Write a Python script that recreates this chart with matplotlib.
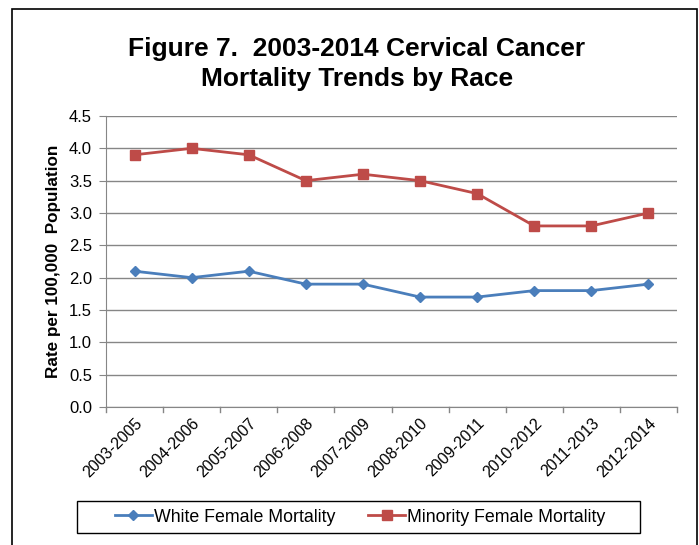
import matplotlib.pyplot as plt
from matplotlib.patches import Rectangle

plt.rcParams['font.family'] = ['Liberation Sans', 'DejaVu Sans']

# Data
periods = ['2003-2005', '2004-2006', '2005-2007', '2006-2008', '2007-2009',
           '2008-2010', '2009-2011', '2010-2012', '2011-2013', '2012-2014']
white = [2.1, 2.0, 2.1, 1.9, 1.9, 1.7, 1.7, 1.8, 1.8, 1.9]
minority = [3.9, 4.0, 3.9, 3.5, 3.6, 3.5, 3.3, 2.8, 2.8, 3.0]
yticks = [0.0, 0.5, 1.0, 1.5, 2.0, 2.5, 3.0, 3.5, 4.0, 4.5]

fig = plt.figure(figsize=(6.99, 5.45), dpi=100)
W, H = 699, 545
ax = fig.add_axes([106 / W, 1 - 407 / H, (677 - 106) / W, (407 - 116) / H])

x = range(len(periods))
ax.plot(x, white, color='#4a7ebb', marker='D', markersize=5, linewidth=2,
        label='White Female Mortality')
ax.plot(x, minority, color='#be4b48', marker='s', markersize=6.5, linewidth=2,
        label='Minority Female Mortality')

ax.set_xlim(-0.5, len(periods) - 0.5)
ax.set_ylim(0, 4.5)
ax.set_yticks(yticks)
ax.set_yticklabels([f'{v:.1f}' for v in yticks], fontsize=12)
ax.set_xticks(x)
ax.set_xticklabels(periods, rotation=45, ha='right', rotation_mode='anchor', fontsize=11.5)
ax.tick_params(axis='x', length=0, pad=6)
ax.tick_params(axis='y', length=5, color='#868686', direction='out', pad=5)
# category boundary ticks
for b in range(len(periods) + 1):
    ax.plot([b - 0.5, b - 0.5], [0, -0.08], color='#868686', lw=1, clip_on=False)

ax.grid(axis='y', color='#868686', linewidth=1)
ax.set_axisbelow(True)
for s in ['top', 'right']:
    ax.spines[s].set_visible(False)
ax.spines['left'].set_color('#868686')
ax.spines['bottom'].set_color('#868686')

ax.set_ylabel('Rate per 100,000  Population', fontsize=12.3, fontweight='bold', labelpad=6)

fig.text(357 / W, 1 - 64 / H, 'Figure 7.  2003-2014 Cervical Cancer\nMortality Trends by Race',
         ha='center', va='center', fontsize=19, fontweight='bold', linespacing=1.35)

leg = fig.legend(loc='center', bbox_to_anchor=(360 / W, 1 - 517 / H), ncol=2,
                 fontsize=12.8, frameon=False, handlelength=2.1, handletextpad=0.1,
                 columnspacing=1.85)

# legend box
fig.patches.append(Rectangle((77 / W, 1 - 533 / H), (640 - 77) / W, (533 - 501) / H,
                             transform=fig.transFigure, fill=False,
                             edgecolor='black', linewidth=1))

# outer chart border
fig.patches.append(Rectangle((12 / W, -0.05), (697 - 12) / W, 1 - 9 / H + 0.05,
                             transform=fig.transFigure, fill=False,
                             edgecolor='black', linewidth=1.2))

fig.savefig('out.png', dpi=100)
